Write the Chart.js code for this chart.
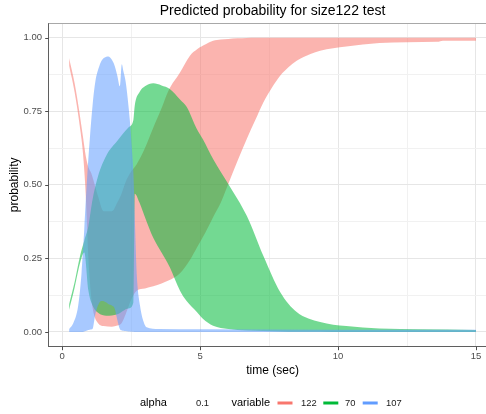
<!DOCTYPE html>
<html>
<head>
<meta charset="utf-8">
<script src="https://cdn.jsdelivr.net/npm/chart.js@4.4.1/dist/chart.umd.min.js"></script>
<style>
  html, body { margin: 0; padding: 0; background: #ffffff; overflow: hidden; }
  #wrap { width: 486px; height: 414px; overflow: hidden; position: relative; }
  #chart { position: absolute; left: 0; top: 0; }
</style>
</head>
<body>
<div id="wrap"><canvas id="chart" width="497" height="414"></canvas></div>
<script>
// ---- data: predicted probability envelopes (low / high) per variable ----
const seriesNames = ['122', '70', '107'];
const seriesColors = ['#F8766D', '#00BA38', '#619CFF'];
const alphaValue = '0.1';

const time122 = [0.25, 0.45, 0.65, 0.75, 0.85, 0.95, 1.05, 1.15, 1.3, 1.5, 1.8, 2.0, 2.15, 2.3, 2.5, 2.7, 3.0, 3.3, 3.6, 3.85, 4.27, 4.63, 4.9, 5.2, 5.47, 5.75, 6.02, 6.35, 6.69, 7.0, 7.29, 7.6, 7.9, 8.2, 8.5, 9.0, 9.35, 10.3, 11.5, 12.5, 13.6, 13.8, 15.0];
const low122  = [0.905, 0.815, 0.69, 0.61, 0.47, 0.25, 0.12, 0.06, 0.03, 0.02, 0.018, 0.022, 0.03, 0.06, 0.11, 0.14, 0.148, 0.155, 0.165, 0.175, 0.2, 0.245, 0.29, 0.34, 0.39, 0.44, 0.503, 0.58, 0.656, 0.72, 0.78, 0.83, 0.871, 0.9, 0.922, 0.945, 0.956, 0.97, 0.982, 0.985, 0.986, 0.99, 0.99];
const high122 = [0.93, 0.845, 0.73, 0.665, 0.6, 0.56, 0.54, 0.51, 0.46, 0.41, 0.41, 0.44, 0.47, 0.51, 0.545, 0.57, 0.625, 0.694, 0.76, 0.82, 0.882, 0.939, 0.962, 0.978, 0.99, 0.994, 0.996, 0.998, 0.999, 1.0, 1.0, 1.0, 1.0, 1.0, 1.0, 1.0, 1.0, 1.0, 1.0, 1.0, 1.0, 1.0, 1.0];

const time70 = [0.25, 0.45, 0.65, 0.8, 0.95, 1.1, 1.3, 1.6, 2.0, 2.4, 2.58, 2.63, 2.8, 3.0, 3.3, 3.6, 3.9, 4.27, 4.51, 4.88, 5.1, 5.47, 6.02, 6.69, 7.29, 7.9, 8.5, 9.35, 10.3, 11.5, 13.0, 15.0];
const low70  = [0.075, 0.15, 0.235, 0.27, 0.14, 0.09, 0.065, 0.055, 0.06, 0.08, 0.1, 0.47, 0.44, 0.39, 0.32, 0.27, 0.22, 0.14, 0.105, 0.068, 0.045, 0.021, 0.01, 0.005, 0.003, 0.002, 0.001, 0.001, 0.0, 0.0, 0.0, 0.0];
const high70 = [0.095, 0.17, 0.26, 0.31, 0.36, 0.45, 0.53, 0.6, 0.65, 0.695, 0.72, 0.77, 0.815, 0.835, 0.845, 0.838, 0.826, 0.79, 0.765, 0.69, 0.655, 0.588, 0.503, 0.395, 0.259, 0.136, 0.068, 0.034, 0.02, 0.012, 0.009, 0.007];

const time107 = [0.25, 0.4, 0.58, 0.7, 0.8, 0.9, 1.0, 1.1, 1.2, 1.35, 1.45, 1.6, 1.67, 1.8, 1.9, 2.0, 2.09, 2.16, 2.22, 2.3, 2.4, 2.46, 2.52, 2.58, 2.64, 2.7, 2.82, 2.95, 3.06, 3.5, 5.0, 10.0, 15.0];
const low107  = [0.0, 0.0, 0.0, 0.0, 0.002, 0.005, 0.008, 0.01, 0.06, 0.1, 0.105, 0.1, 0.095, 0.09, 0.08, 0.04, 0.01, 0.005, 0.004, 0.003, 0.002, 0.002, 0.001, 0.001, 0.0, 0.0, 0.0, 0.0, 0.0, 0.0, 0.0, 0.0, 0.0];
const high107 = [0.01, 0.03, 0.09, 0.2, 0.35, 0.52, 0.656, 0.77, 0.85, 0.905, 0.925, 0.935, 0.936, 0.925, 0.905, 0.87, 0.835, 0.91, 0.885, 0.85, 0.77, 0.71, 0.63, 0.54, 0.36, 0.2, 0.09, 0.035, 0.016, 0.01, 0.009, 0.008, 0.008];

const xMajorTicks = [0, 5, 10, 15];
const yMajorTicks = [0, 0.25, 0.5, 0.75, 1.0];

// ---- helpers ----
const FONT = "'Liberation Sans', Arial, Helvetica, sans-serif";
Chart.defaults.font.family = FONT;

function withAlpha(hex, a) {
  const n = parseInt(hex.slice(1), 16);
  return `rgba(${(n >> 16) & 255}, ${(n >> 8) & 255}, ${n & 255}, ${a})`;
}

function minorBetween(majors) {
  const out = [];
  for (let i = 0; i < majors.length - 1; i++) out.push((majors[i] + majors[i + 1]) / 2);
  return out;
}

// each variable becomes two line datasets; the upper one fills down to the lower one
function bandDatasets(name, color, t, lo, hi, order) {
  const common = {
    borderWidth: 0,
    borderColor: 'rgba(0,0,0,0)',
    pointRadius: 0,
    pointHoverRadius: 0,
    cubicInterpolationMode: 'monotone',
    order: order
  };
  return [
    Object.assign({ label: name + ' low', data: t.map((x, i) => ({ x: x, y: lo[i] })), fill: false }, common),
    Object.assign({ label: name, data: t.map((x, i) => ({ x: x, y: hi[i] })), fill: '-1',
                    backgroundColor: withAlpha(color, 0.55) }, common)
  ];
}

const datasets = [].concat(
  bandDatasets(seriesNames[0], seriesColors[0], time122, low122, high122, 3),
  bandDatasets(seriesNames[1], seriesColors[1], time70, low70, high70, 2),
  bandDatasets(seriesNames[2], seriesColors[2], time107, low107, high107, 1)
);

const xGridValues = xMajorTicks.concat(minorBetween(xMajorTicks)).sort((a, b) => a - b);
const yGridValues = yMajorTicks.concat(minorBetween(yMajorTicks)).sort((a, b) => a - b);

const isMajor = (list, v) => list.some(m => Math.abs(m - v) < 1e-9);

// panel top border, tick marks and the bottom legend
const panelDecor = {
  id: 'panelDecor',
  afterDraw(chart) {
    const { ctx, chartArea: a, scales } = chart;
    ctx.save();
    ctx.lineWidth = 1;
    ctx.strokeStyle = '#a8a8a8';
    ctx.beginPath();
    ctx.moveTo(a.left, a.top + 0.5);
    ctx.lineTo(a.right, a.top + 0.5);
    ctx.stroke();

    ctx.strokeStyle = '#4d4d4d';
    ctx.beginPath();
    xMajorTicks.forEach(v => {
      const px = Math.round(scales.x.getPixelForValue(v)) + 0.5;
      ctx.moveTo(px, a.bottom);
      ctx.lineTo(px, a.bottom + 3.5);
    });
    yMajorTicks.forEach(v => {
      const py = Math.round(scales.y.getPixelForValue(v)) + 0.5;
      ctx.moveTo(a.left, py);
      ctx.lineTo(a.left - 3.5, py);
    });
    ctx.stroke();

    // legend
    const ly = 403;
    ctx.textBaseline = 'middle';
    ctx.textAlign = 'left';
    ctx.fillStyle = '#000000';
    ctx.font = `11px ${FONT}`;
    ctx.fillText('alpha', 140, ly);
    ctx.fillText('variable', 231.5, ly);
    ctx.fillStyle = '#1a1a1a';
    ctx.font = `9.4px ${FONT}`;
    ctx.fillText(alphaValue, 196, ly);
    const keyX = [277.5, 323.3, 362.7];
    const labelX = [301, 345, 386];
    ctx.lineWidth = 3;
    seriesNames.forEach((name, i) => {
      ctx.strokeStyle = seriesColors[i];
      ctx.beginPath();
      ctx.moveTo(keyX[i], ly);
      ctx.lineTo(keyX[i] + 15, ly);
      ctx.stroke();
      ctx.fillText(name, labelX[i], ly);
    });
    ctx.restore();
  }
};

new Chart(document.getElementById('chart'), {
  type: 'line',
  data: { datasets: datasets },
  plugins: [panelDecor],
  options: {
    responsive: false,
    animation: false,
    devicePixelRatio: 1,
    events: [],
    layout: { padding: { top: 0, right: 0.6, bottom: 30, left: 0 } },
    plugins: {
      legend: { display: false },
      tooltip: { enabled: false },
      title: {
        display: true,
        text: 'Predicted probability for size122 test',
        fullSize: false,
        color: '#000000',
        font: { size: 14, weight: 'normal', family: FONT },
        padding: { top: 3.1, bottom: 3.1 }
      }
    },
    scales: {
      x: {
        type: 'linear',
        min: -0.49,
        max: 15.74,
        afterFit: s => { s.height = 37.3; },
        afterBuildTicks: s => { s.ticks = xGridValues.map(v => ({ value: v })); },
        grid: {
          drawTicks: false,
          color: c => (c.tick && isMajor(xMajorTicks, c.tick.value)) ? '#e6e6e6' : '#f1f1f1',
          lineWidth: 1
        },
        border: { display: true, color: '#5f5f5f', width: 1 },
        ticks: {
          autoSkip: false,
          maxRotation: 0,
          padding: 3.6,
          color: '#4d4d4d',
          font: { size: 9.5 },
          callback: v => isMajor(xMajorTicks, v) ? String(v) : ''
        },
        title: {
          display: true,
          text: 'time (sec)',
          color: '#000000',
          font: { size: 12 },
          padding: { top: 0, bottom: 5.8 }
        }
      },
      y: {
        type: 'linear',
        min: -0.05,
        max: 1.05,
        afterFit: s => { s.width = 48.7; },
        afterBuildTicks: s => { s.ticks = yGridValues.map(v => ({ value: v })); },
        grid: {
          drawTicks: false,
          color: c => (c.tick && isMajor(yMajorTicks, c.tick.value)) ? '#e6e6e6' : '#f1f1f1',
          lineWidth: 1
        },
        border: { display: true, color: '#5f5f5f', width: 1 },
        ticks: {
          autoSkip: false,
          padding: 6.7,
          color: '#4d4d4d',
          font: { size: 9.5 },
          callback: v => isMajor(yMajorTicks, v) ? v.toFixed(2) : ''
        },
        title: {
          display: true,
          text: 'probability',
          color: '#000000',
          font: { size: 12 },
          padding: { top: 7.3, bottom: 0 }
        }
      }
    }
  }
});
</script>
</body>
</html>
